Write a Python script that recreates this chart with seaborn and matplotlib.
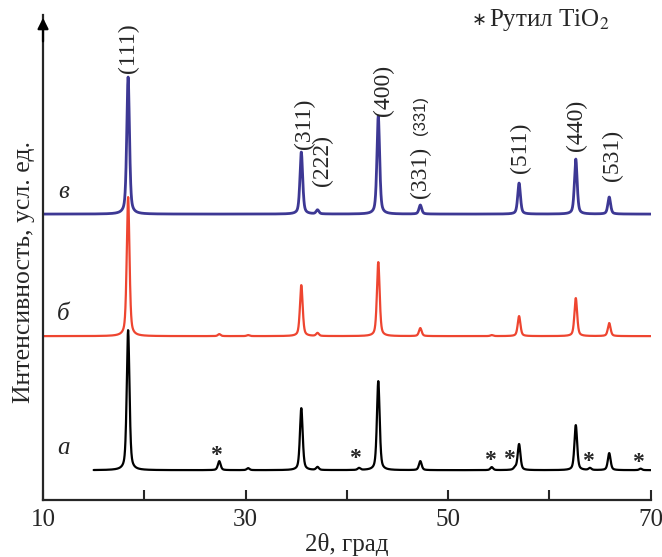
import numpy as np
import pandas as pd
import seaborn as sns
import matplotlib.pyplot as plt

# Peak positions (2theta, deg) of the spinel phase and rutile TiO2
hkl = ['(111)', '(220)', '(311)', '(222)', '(400)', '(331)', '(511)', '(440)', '(531)']
spinel_pos = [18.4, 30.25, 35.5, 37.1, 43.1, 47.25, 57.0, 62.6, 65.9]
rutile_pos = [27.4, 41.2, 54.3, 56.6, 64.0, 69.0]

# Peak heights (arb. units), per sample
spinel_a = [140, 2, 62, 3, 89, 9, 26, 45, 17]
spinel_b = [139, 1, 51, 3, 74, 8, 20, 38, 13]
spinel_v = [137, 0, 62, 4, 98, 9, 31, 55, 17]
rutile_a = [9, 2, 3, 2, 2, 1.5]
rutile_b = [2, 0, 1, 0, 0, 0]
rutile_v = [0, 0, 0, 0, 0, 0]

# Baselines (vertical offsets) and start angles of the patterns
samples = ['а', 'б', 'в']
baselines = [30, 164, 286]
starts = [15, 10, 10]
colors = ['#000000', '#ee4530', '#3d3894']
widths = [1.6, 1.6, 2.0]

# Label positions for hkl and rutile stars
label_pos = [18.4, 35.8, 37.6, 43.6, 47.3, 57.1, 62.7, 66.2]
label_txt = ['(111)', '(311)', '(222)', '(400)', '(331)', '(511)', '(440)', '(531)']
label_y = [452, 376, 340, 410, 328, 352, 375, 345]
star_pos = [27.1, 40.8, 54.1, 56.0, 63.8, 68.7]
star_y = [15, 12, 10, 11, 9, 8]


def profile(x, pos, amp, fwhm=0.32, eta=0.5):
    y = np.zeros_like(x)
    for p, a in zip(pos, amp):
        g = np.exp(-4 * np.log(2) * (x - p) ** 2 / fwhm ** 2)
        l = 1 / (1 + 4 * (x - p) ** 2 / fwhm ** 2)
        y += a * (eta * l + (1 - eta) * g)
    return y


rows = []
heights = [(spinel_a, rutile_a), (spinel_b, rutile_b), (spinel_v, rutile_v)]
for s, base, x0, (sp, ru) in zip(samples, baselines, starts, heights):
    x = np.linspace(x0, 70, 4000)
    y = base + profile(x, spinel_pos, sp) + profile(x, rutile_pos, ru)
    rows.append(pd.DataFrame({'2theta': x, 'I': y, 'sample': s}))
df = pd.concat(rows, ignore_index=True)

sns.set_style("ticks")
plt.rcParams['font.family'] = ['Liberation Serif', 'DejaVu Serif']
plt.rcParams['mathtext.fontset'] = 'stix'

fig = plt.figure(figsize=(6.62, 5.57), dpi=100)
ax = fig.add_axes([0.065, 0.102, 0.918, 0.871])

for s, c, w in zip(samples, colors, widths):
    sns.lineplot(data=df[df['sample'] == s], x='2theta', y='I', color=c,
                 linewidth=w, legend=False, ax=ax, sort=False)

ax.set_xlim(10, 70)
ax.set_ylim(0, 485)
ax.set_xticks([10, 20, 30, 40, 50, 60, 70])
ax.set_xticklabels(['10', '', '30', '', '50', '', '70'])
ax.set_yticks([])
ax.tick_params(axis='x', direction='in', length=7, width=1.5, labelsize=18, pad=6)
for side in ['top', 'right']:
    ax.spines[side].set_visible(False)
for side in ['left', 'bottom']:
    ax.spines[side].set_linewidth(1.6)
ax.annotate('', xy=(0, 1.0), xytext=(0, 0.94), xycoords='axes fraction',
            arrowprops=dict(arrowstyle='-|>', color='k', lw=1.6, mutation_scale=16))

ax.set_xlabel('2θ, град', fontsize=18, labelpad=2)
ax.set_ylabel('Интенсивность, усл. ед.', fontsize=18.5)
ax.yaxis.set_label_coords(-0.014, 0.47)

# sample letters
for s, base in zip(samples, baselines):
    ax.text(12.0, base + 22, s, fontsize=18, style='italic', ha='center', va='center')

# hkl labels
for p, t, yy in zip(label_pos, label_txt, label_y):
    ax.text(p, yy, t, rotation=90, fontsize=17, ha='center', va='center')
ax.text(47.3, 385, '(331)', rotation=90, fontsize=12, ha='center', va='center',
        family=['Liberation Sans', 'DejaVu Sans'])

# rutile stars
for p, yy in zip(star_pos, star_y):
    ax.text(p, baselines[0] + yy, '*', fontsize=17, fontweight='bold',
            ha='center', va='center')

ax.text(53.1, 480, '∗', fontsize=13, ha='center', va='center', family=['DejaVu Sans'])
ax.text(54.0, 480, 'Рутил TiO$_2$', fontsize=18, ha='left', va='center')

fig.savefig('out.png', dpi=100)
